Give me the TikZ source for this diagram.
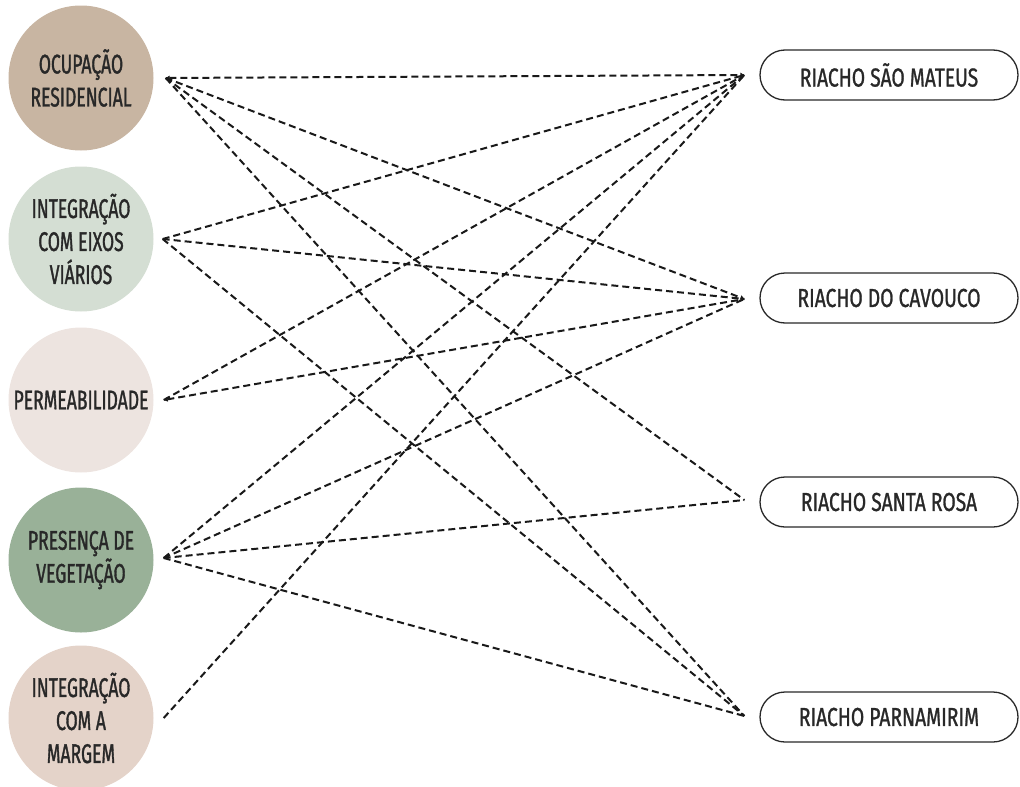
\documentclass[tikz,border=0pt]{standalone}
\usepackage{fontspec}
\setmainfont[FakeStretch=0.65, FakeBold=1.2]{Fira Sans}
\newfontfamily\riachofont[FakeStretch=0.74, FakeBold=1.0]{Fira Sans}
\usepackage{xcolor}
\usepackage{tikz}
\usetikzlibrary{arrows.meta, positioning, calc}
\definecolor{inkgrey}{RGB}{40,40,40}
\definecolor{ocupfill}{RGB}{200,181,162}
\definecolor{eixosfill}{RGB}{212,222,211}
\definecolor{permfill}{RGB}{237,228,224}
\definecolor{vegfill}{RGB}{153,177,152}
\definecolor{margemfill}{RGB}{228,211,201}

\begin{document}
\begin{tikzpicture}[
        x=1pt, y=-1pt,
        theme/.style={
            circle,
            draw=none,
            minimum size=145pt,
            inner sep=0pt,
            align=center,
            text=inkgrey,
            font=\fontsize{27}{33}\selectfont
        },
        riacho/.style={
            draw=inkgrey,
            line width=1.3pt,
            rounded corners=25pt,
            minimum width=258pt,
            minimum height=50pt,
            text=inkgrey,
            font=\riachofont\fontsize{26}{33}\selectfont
        },
        link/.style={
            draw=black!90,
            line width=2pt,
            dash pattern=on 7pt off 4pt
        },
        tip/.style={
            arrows={-Triangle[length=4pt, width=4.5pt]}
        }
    ]

        % page frame
        \useasboundingbox (0,0) rectangle (1020,787);

        % themes on the left
        \node[theme, fill=ocupfill] (ocup) at (81,78) {OCUPAÇÃO\\RESIDENCIAL};
        \node[theme, fill=eixosfill] (eixos) at (81,239) {INTEGRAÇÃO\\COM EIXOS\\VIÁRIOS};
        \node[theme, fill=permfill] (perm) at (81,400) {PERMEABILIDADE};
        \node[theme, fill=vegfill] (veg) at (81,560) {PRESENÇA DE\\VEGETAÇÃO};
        \node[theme, fill=margemfill] (margem) at (81,718) {INTEGRAÇÃO\\COM A\\MARGEM};

        % streams on the right
        \node[riacho] (mateus) at (889,75) {RIACHO SÃO MATEUS};
        \node[riacho] (cavouco) at (889,298) {RIACHO DO CAVOUCO};
        \node[riacho] (rosa) at (889,502) {RIACHO SANTA ROSA};
        \node[riacho] (parna) at (889,717) {RIACHO PARNAMIRIM};

        % loose ends of the links
        \coordinate (ocupR) at ($(ocup.east)+(12,0)$);
        \coordinate (eixosR) at ($(eixos.east)+(9,0)$);
        \coordinate (permR) at ($(perm.east)+(10,0)$);
        \coordinate (vegR) at ($(veg.east)+(10,-2)$);
        \coordinate (margemR) at ($(margem.east)+(10,0)$);
        \coordinate (mateusL) at ($(mateus.west)+(-15,0)$);
        \coordinate (cavoucoL) at ($(cavouco.west)+(-15,1)$);
        \coordinate (rosaL) at ($(rosa.west)+(-15,-2)$);
        \coordinate (parnaL) at ($(parna.west)+(-15,-1)$);

        % links
        \draw[link, arrows={Triangle[length=4pt, width=4.5pt]-Triangle[length=4pt, width=4.5pt]}] (ocupR) -- (mateusL);
        \draw[link, tip] (ocupR) -- (cavoucoL);
        \draw[link] (ocupR) -- (rosaL);
        \draw[link] (ocupR) -- (parnaL);

        \draw[link] (eixosR) -- (mateusL);
        \draw[link] (eixosR) -- (cavoucoL);
        \draw[link] (eixosR) -- (parnaL);

        \draw[link] (permR) -- (mateusL);
        \draw[link, arrows={Triangle[length=4pt, width=4.5pt]-}] (permR) -- (cavoucoL);

        \draw[link] (vegR) -- (mateusL);
        \draw[link] (vegR) -- (cavoucoL);
        \draw[link] (vegR) -- (rosaL);
        \draw[link] (vegR) -- (parnaL);

        \draw[link] (margemR) -- (mateusL);

    \end{tikzpicture}
\end{document}
